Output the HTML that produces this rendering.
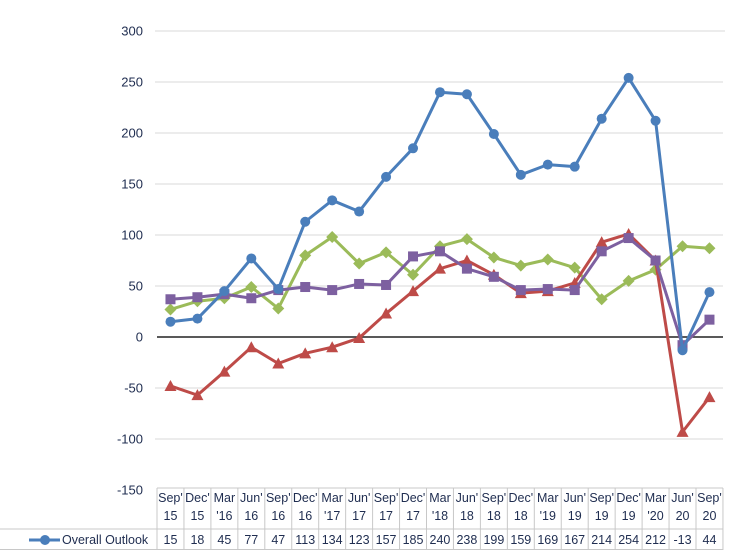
<!DOCTYPE html>
<html><head><meta charset="utf-8"><style>
body{margin:0;background:#fff;width:740px;height:550px;overflow:hidden}
svg{display:block}
text{font-family:"Liberation Sans",sans-serif;fill:#1f2d50}
</style></head><body>
<svg id="s" width="740" height="550" xmlns="http://www.w3.org/2000/svg"></svg>
<script>
const s=document.getElementById('s');
const X0=157,W=26.95,Y0=337,K=51/50;
const cx=i=>X0+W*(i+0.5), cy=v=>Y0-v*K;
let h='';
for(let v=-150;v<=300;v+=50){
  const y=cy(v);
  if(v!==0&&v!==-150)h+=`<line x1="155" x2="723" y1="${y}" y2="${y}" stroke="#d9d9d9" stroke-width="1"/>`;
  h+=`<text x="143" y="${y+4.5}" font-size="13" text-anchor="end">${v}</text>`;
}
h+=`<line x1="157" x2="723" y1="${Y0}" y2="${Y0}" stroke="#222" stroke-width="1.6"/>`;
const ov=[15,18,45,77,47,113,134,123,157,185,240,238,199,159,169,167,214,254,212,-13,44];
const red=[-48,-57,-34,-10,-26,-16,-10,-1,23,45,67,75,61,43,45,53,93,101,75,-93,-59];
const grn=[27,35,38,49,28,80,98,72,83,61,89,96,78,70,76,68,37,55,66,89,87];
const pur=[37,39,42,38,46,49,46,52,51,79,84,67,59,46,47,46,84,97,75,-8,17];
function line(d,c,m){
  h+=`<polyline fill="none" stroke="${c}" stroke-width="3" stroke-linejoin="round" points="${d.map((v,i)=>cx(i)+','+cy(v)).join(' ')}"/>`;
  d.forEach((v,i)=>{const x=cx(i),y=cy(v);
    if(m=='c')h+=`<circle cx="${x}" cy="${y}" r="5" fill="${c}"/>`;
    if(m=='s')h+=`<rect x="${x-5}" y="${y-5}" width="10" height="10" fill="${c}"/>`;
    if(m=='d')h+=`<polygon points="${x},${y-6} ${x+6},${y} ${x},${y+6} ${x-6},${y}" fill="${c}"/>`;
    if(m=='t')h+=`<polygon points="${x},${y-6} ${x+6},${y+5} ${x-6},${y+5}" fill="${c}"/>`;
  });
}
line(grn,'#9bbb59','d');line(red,'#be4b48','t');line(pur,'#7d60a0','s');line(ov,'#4a7ebb','c');
const lab=[["Sep'","15"],["Dec'","15"],["Mar","'16"],["Jun'","16"],["Sep'","16"],["Dec'","16"],["Mar","'17"],["Jun'","17"],["Sep'","17"],["Dec'","17"],["Mar","'18"],["Jun'","18"],["Sep'","18"],["Dec'","18"],["Mar","'19"],["Jun'","19"],["Sep'","19"],["Dec'","19"],["Mar","'20"],["Jun'","20"],["Sep'","20"]];
const R=723;
h+=`<g stroke="#c8c8c8" stroke-width="1">`;
h+=`<line x1="${X0}" x2="${R}" y1="488" y2="488"/><line x1="0" x2="${R}" y1="529" y2="529"/><line x1="0" x2="${R}" y1="549.5" y2="549.5"/>`;
for(let i=0;i<=21;i++)h+=`<line x1="${X0+W*i}" x2="${X0+W*i}" y1="488" y2="550"/>`;
h+=`</g>`;
lab.forEach((l,i)=>{h+=`<text x="${cx(i)}" y="502" font-size="12.5" text-anchor="middle">${l[0]}</text><text x="${cx(i)}" y="520" font-size="12.5" text-anchor="middle">${l[1]}</text><text x="${cx(i)}" y="544" font-size="12.5" text-anchor="middle">${ov[i]}</text>`});
h+=`<line x1="29" x2="60" y1="540" y2="540" stroke="#4a7ebb" stroke-width="3"/><circle cx="45" cy="540" r="5" fill="#4a7ebb"/>`;
h+=`<text x="62" y="544" font-size="12.5">Overall Outlook</text>`;
h+=`<line x1="560" x2="725" y1="31" y2="31" stroke="#d9d9d9"/>`;
s.innerHTML=h;
</script>
</body></html>
